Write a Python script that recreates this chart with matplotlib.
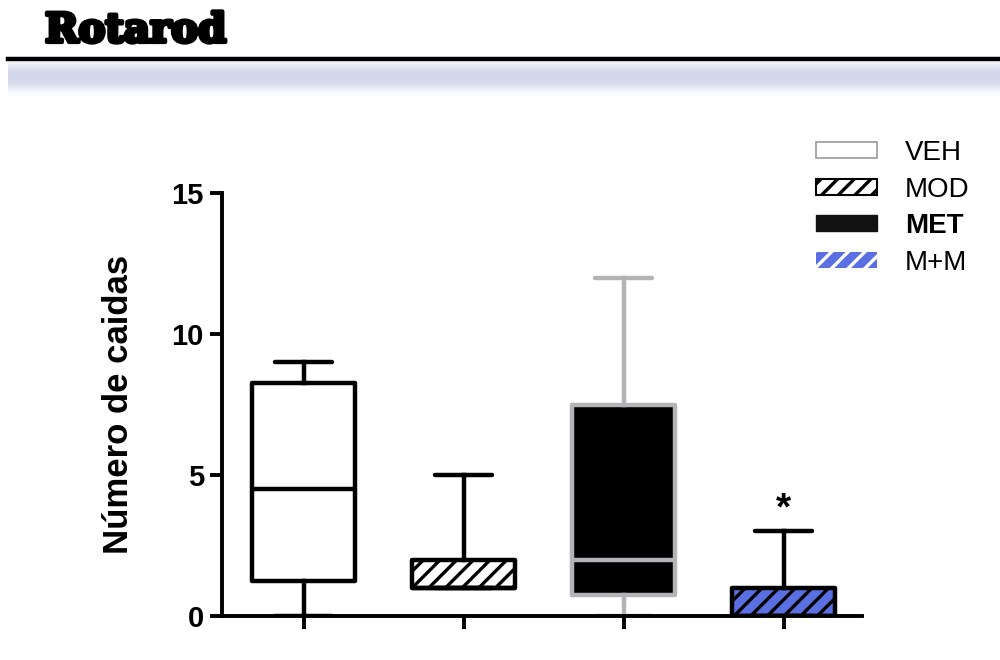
import numpy as np
import matplotlib
matplotlib.use('Agg')
import matplotlib.pyplot as plt
from matplotlib.patches import Patch
from matplotlib.lines import Line2D
import matplotlib.patheffects as pe
from matplotlib.colors import LinearSegmentedColormap

plt.rcParams['font.family'] = ['Liberation Sans', 'DejaVu Sans']
plt.rcParams['hatch.linewidth'] = 2.4

# box summary values
groups = ['VEH', 'MOD', 'MET', 'M+M']
whislo = [0, 1, 0, 0]
q1 = [1.25, 1, 0.75, 0]
med = [4.5, 1, 2, 0]
q3 = [8.25, 2, 7.5, 1]
whishi = [9, 5, 12, 3]
signif = ['', '', '', '*']

blue = '#5a70e2'
grey = '#b3b3b8'
faces = ['white', 'white', 'black', blue]
edges = ['black', 'black', grey, 'black']
hatches = [None, '//', None, '//']

fig = plt.figure(figsize=(10, 6.6), dpi=100)

# header: title, rule and shaded band
fig.text(0.045, 0.953, 'Rotarod', family='DejaVu Serif', fontweight='bold',
         fontsize=29, va='center', ha='left',
         path_effects=[pe.withStroke(linewidth=3, foreground='black')])
fig.add_artist(Line2D([0.008, 1.0], [1 - 59/660, 1 - 59/660], color='black', lw=3.2))
band = fig.add_axes([0.008, 1 - 98/660, 0.992, 36/660])
rows = np.array([0.35, 0.6, 0.85, 1.0, 1.0, 1.0, 0.95, 0.8, 0.55, 0.3, 0.1, 0.0])
cmap = LinearSegmentedColormap.from_list('band', ['#ffffff', '#d3d7ea'])
band.imshow(rows[:, None], aspect='auto', cmap=cmap, vmin=0, vmax=1,
            interpolation='bilinear')
band.axis('off')

ax = fig.add_axes([0.222, 1 - 616/660, 0.64, (616 - 193)/660])

lw = 3.2
for i, g in enumerate(groups):
    stats = [dict(whislo=whislo[i], q1=q1[i], med=med[i], q3=q3[i],
                  whishi=whishi[i], fliers=[], label=g)]
    ec = edges[i]
    ax.bxp(stats, positions=[i + 1], widths=0.64, patch_artist=True,
           showfliers=False, capwidths=0.36,
           boxprops=dict(facecolor=faces[i], edgecolor=ec, linewidth=lw,
                         hatch=hatches[i], joinstyle='round'),
           medianprops=dict(color=ec, linewidth=lw),
           whiskerprops=dict(color=ec, linewidth=lw),
           capprops=dict(color=ec, linewidth=lw, solid_capstyle='round'),
           zorder=3)
    if signif[i]:
        ax.text(i + 1, whishi[i] + 0.15, signif[i], ha='center', va='bottom',
                fontsize=28, fontweight='bold')

ax.set_xlim(0.49, 4.49)
ax.set_ylim(0, 15)
ax.set_yticks([0, 5, 10, 15])
ax.set_xticks([1, 2, 3, 4])
ax.set_xticklabels([])
for s in ['top', 'right']:
    ax.spines[s].set_visible(False)
for s in ['left', 'bottom']:
    ax.spines[s].set_linewidth(2.8)
ax.spines['bottom'].set_zorder(4)
ax.tick_params(axis='both', direction='out', length=9, width=2.8)
ax.tick_params(axis='y', labelsize=21, pad=4)
for lab in ax.get_yticklabels():
    lab.set_fontweight('bold')
ax.set_ylabel('Número de caidas', fontsize=25, fontweight='bold', labelpad=26)

handles = [
    Patch(facecolor='white', edgecolor='#999999', linewidth=1.2),
    Patch(facecolor='white', edgecolor='black', linewidth=1.5, hatch='//'),
    Patch(facecolor='#111111', edgecolor='#111111', linewidth=1),
    Patch(facecolor=blue, edgecolor='white', linewidth=0, hatch='//'),
]
leg = fig.legend(handles, groups, loc='upper left',
                 bbox_to_anchor=(0.816, 1 - 140/660), frameon=False,
                 fontsize=20, handlelength=2.2, handleheight=0.5,
                 handletextpad=1.0, labelspacing=0.38, borderpad=0,
                 borderaxespad=0)
leg.get_texts()[2].set_fontweight('bold')

fig.savefig('out.png', dpi=100)
